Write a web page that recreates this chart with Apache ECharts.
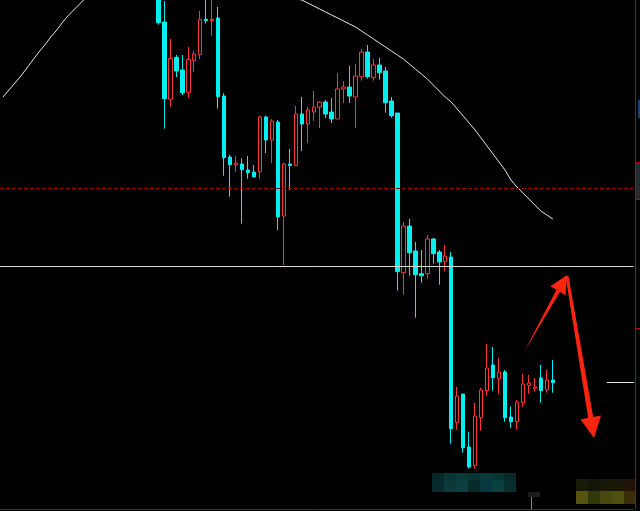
<!DOCTYPE html>
<html><head><meta charset="utf-8">
<script src="https://cdn.jsdelivr.net/npm/echarts@6/dist/echarts.min.js"></script>
<style>html,body{margin:0;padding:0;background:#000}#c{width:640px;height:511px}</style>
</head><body><div id="c"></div>
<script>
// number of category slots on the time axis (empty before first visible candle)
const slotCount = 106;
const firstCandleSlot = 26;
// candles: [open, close, low, high]
const candles = [
 [2410,2377.3,2375.3,2420],[2378,2301.3,2271.3,2399],[2300.7,2341.7,2293.3,2361],[2342.7,2329,2323,2345],
 [2330,2307.3,2305,2345],[2307.7,2340.7,2302.3,2353],[2339.3,2346,2328.3,2349],[2345.7,2380.7,2341,2389],
 [2380.7,2379.3,2376.3,2415],[2379.3,2380.7,2364.3,2410],[2382,2303.3,2291.3,2393],[2304,2242.3,2224.3,2306.7],
 [2243,2235.3,2203.3,2245],[2235.3,2237,2228.3,2244],[2236,2230.3,2176.3,2241.7],[2230,2227.3,2221.3,2244],
 [2228,2223,2223,2235],[2228.3,2283,2221.3,2284.3],[2283,2260,2247,2284.3],[2260,2279,2237,2281],
 [2278,2183,2170,2280],[2184,2236,2135,2237],[2236,2234.5,2210,2251],[2234.3,2286,2234.3,2294],
 [2286,2276,2249,2303],[2276,2290,2257,2293],[2288,2293,2279,2309],[2293,2298,2272,2299],
 [2298,2286,2282,2300],[2288,2281,2277,2302],[2281,2311,2281,2327],[2311,2313,2297,2319],
 [2313,2304,2297,2334],[2303,2324,2272,2336],[2323.3,2348,2319.3,2351],[2348,2323.3,2321.3,2355],
 [2322.3,2335,2319.3,2341],[2335,2327.3,2320.3,2342],[2329,2297.3,2287.3,2333],[2299,2284.3,2282.3,2303],
 [2287,2128.3,2109.3,2287],[2127.3,2174,2105.3,2178],[2174,2147.3,2124.3,2181],[2149,2125.3,2082.3,2158],
 [2126.3,2124.3,2117.3,2150],[2126.3,2161,2121.3,2165],[2161,2146.3,2136.3,2162],[2148,2138,2115.3,2150],
 [2138.3,2144,2129.3,2155],[2143,1971.3,1956.3,2148],[1977.3,2004,1970.3,2013],[2006,1952.3,1947.3,2006],
 [1953,1933,1931.3,1968.3],[1934.3,1984,1931.3,1997],[1982.3,2010,1969.3,2012],[2009.3,2032,2004.3,2056],
 [2035,2022.3,2009.3,2053],[2021.3,2028,2006.3,2042],[2028,1982.3,1978.3,2030],[1983,1978.3,1972.3,1993.3],
 [1978.3,1998,1970.3,2000],[1997.3,2016,1993.3,2026],[2014.7,2017,2006.3,2025],[2011.7,2013,2008.3,2022],
 [2022,2009.3,1997.3,2035],[2010.3,2020,2007.3,2030],[2020,2017.3,2007.3,2040]
];
// moving average, one value per slot from slot 0
const maValues = [
 2303,2310,2317,2324,2332,2340,2348,2355,2363,2370,2378,2385,2391,2397,2403,2409,
 2415,2420,2425,2430,2434,2438,2441,2444,2446,2448,2449,2450,2450,2450,2449,2448,2446,2444,2442,2440,
 2437,2434,2431,2428,2425,2422,2419,2416,2413,2410,2407,2405,2403,2401,
 2400,2397,2394,2391,2388,2385,2382,2379,2376,2373,2369,2365,2361,2357,2353,2349,2345,2341,2336,2331,
 2326,2321,2315,2309,2303,2298,2291,2284,2277,2270,2262,2254,2246,2238,2230,2220,2213,2207,2201,2195,
 2189,2185,2181
];
const dashedLevel = 2212;
const solidLevel = 2134;
const bidLevel = 2018;
const yMin = 1891, yMax = 2400;

const cats = [];
for (let i = 0; i < slotCount; i++) cats.push(String(i));
const candleData = [];
for (let i = 0; i < slotCount; i++) {
  const k = i - firstCandleSlot;
  candleData.push(k >= 0 && k < candles.length ? candles[k] : '-');
}
const maData = [];
for (let i = 0; i < slotCount; i++) maData.push(i < maValues.length ? maValues[i] : '-');

const RED = '#ff3434', CYAN = '#00f0f0';
const tealCells = [['#08292b','#0b3535','#0b3c3c','#0a3535','#0b3a3d','#093537','#082a2a'],
                   ['#082c2e','#0b3a38','#0c4040','#072b2b','#0a3840','#0b4040','#082e2e']];
const yelCells = [['#1a1a08','#141408','#181808','#1a1608','#201408'],
                  ['#555510','#30380c','#4a4a10','#50500e','#3a2e0a']];
const graphics = [];
tealCells.forEach((row, r) => row.forEach((c, j) => graphics.push({type:'rect', shape:{x:432+j*12, y:r===0?473:480, width:12, height:r===0?7:12}, style:{fill:c}, silent:true})));
yelCells.forEach((row, r) => row.forEach((c, j) => graphics.push({type:'rect', shape:{x:576+j*12, y:r===0?479:491, width:12, height:r===0?12:13}, style:{fill:c}, silent:true})));
graphics.push({type:'rect', shape:{x:528,y:492,width:12,height:5}, style:{fill:'#1c1c1c'}, silent:true});
graphics.push({type:'line', shape:{x1:531.5,y1:497,x2:531.5,y2:510}, style:{stroke:'#8a8a8a',lineWidth:1}, silent:true});
graphics.push({type:'rect', shape:{x:636,y:163,width:4,height:36}, style:{fill:'#2a2a2a'}, silent:true});
graphics.push({type:'rect', shape:{x:638,y:100,width:2,height:18}, style:{fill:'#1d3f73'}, silent:true});
graphics.push({type:'line', shape:{x1:630,y1:382.5,x2:634,y2:382.5}, style:{stroke:'#e0e0e0',lineWidth:1}, silent:true});
[162,199,328].forEach(y => graphics.push({type:'line', shape:{x1:635,y1:y+0.5,x2:640,y2:y+0.5}, style:{stroke:'#c00000',lineWidth:1}, silent:true}));
// arrows
graphics.push({type:'polygon', shape:{points:[[524,352],[556.5,289.7],[550.5,286.3],[567,275],[565.5,295.5],[560,291.7]]}, style:{fill:'#ff2412'}, silent:true});
graphics.push({type:'polygon', shape:{points:[[565.5,276],[568.5,276],[593.2,416.9],[601,415.5],[594,438],[580.5,419.5],[588.2,417.7]]}, style:{fill:'#ff2412'}, silent:true});

const chart = echarts.init(document.getElementById('c'), null, {renderer:'canvas'});
chart.setOption({
  backgroundColor:'#000',
  animation:false,
  grid:{left:-2.5, right:6.5, top:0, bottom:2},
  xAxis:{type:'category', data:cats, boundaryGap:true,
    axisLine:{show:true, lineStyle:{color:'#b00000', width:1}},
    axisTick:{show:false}, axisLabel:{show:false}, splitLine:{show:false}},
  yAxis:{type:'value', position:'right', offset:2, min:yMin, max:yMax, scale:true,
    axisLine:{show:true, lineStyle:{color:'#c00000', width:1}},
    axisTick:{show:false}, axisLabel:{show:false}, splitLine:{show:false}},
  series:[
    {type:'candlestick', data:candleData, barWidth:4, clip:true,
     itemStyle:{color:'#000', color0:CYAN, borderColor:RED, borderColor0:CYAN, borderWidth:1},
     markLine:{silent:true, symbol:'none', label:{show:false}, animation:false,
       data:[
        {yAxis:dashedLevel, lineStyle:{color:'#a00000', type:[4,2], width:1}},
        {yAxis:solidLevel, lineStyle:{color:'#d8d8d8', type:'solid', width:1}},
        [{coord:['101',bidLevel], lineStyle:{color:'#e0e0e0', type:'solid', width:1}},{coord:['105',bidLevel]}]
       ]}},
    {type:'line', data:maData, showSymbol:false, symbol:'none', clip:true, smooth:false,
     lineStyle:{color:'#e8e8e8', width:1}, z:1}
  ],
  graphic:graphics
});
</script></body></html>
